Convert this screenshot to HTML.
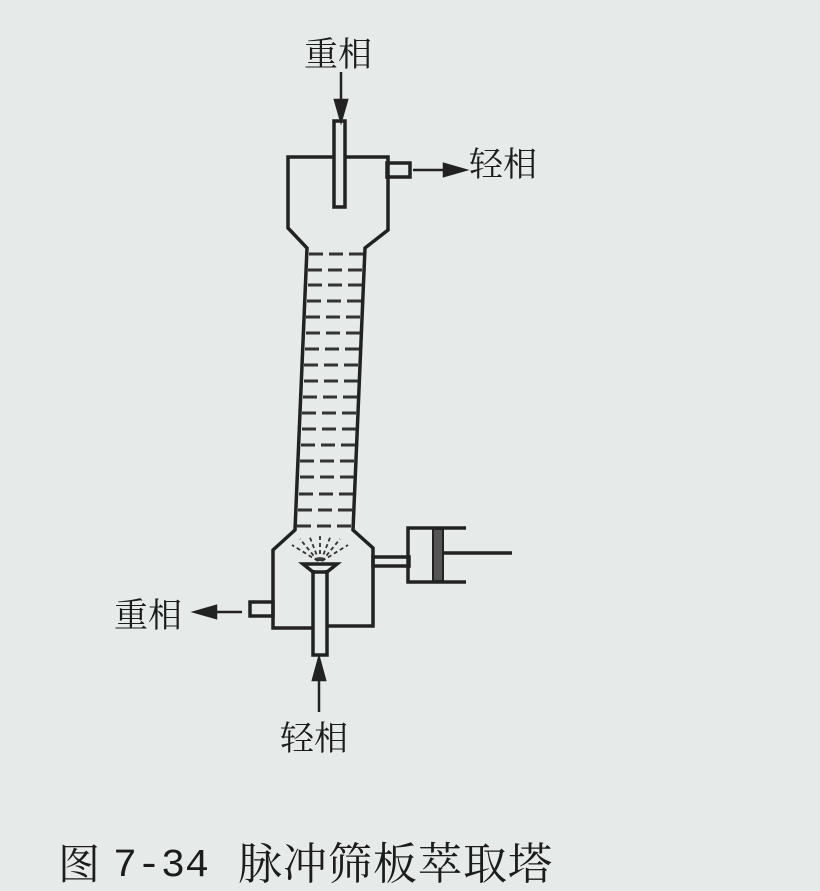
<!DOCTYPE html>
<html><head><meta charset="utf-8"><style>
html,body{margin:0;padding:0;background:#e6eae9;}
svg{display:block}
text{font-family:"Liberation Serif","Noto Serif CJK SC","Noto Sans CJK SC",serif;fill:#1c1c1c}
</style></head><body>
<svg width="820" height="891" viewBox="0 0 820 891" xmlns="http://www.w3.org/2000/svg">
<rect width="820" height="891" fill="#e6eae9"/>
<g stroke="#222" stroke-width="3.5" fill="none" stroke-linejoin="miter">
<path d="M333 157 L288 157 L288 228 L307 248 L295 530 L273 550 L273 628 L313 628"/>
<path d="M346 157 L388 157 L388 230 L365 248 L353 530 L373 548 L373 626 L327 626"/>
<rect x="334" y="121" width="11" height="86"/>
<rect x="387" y="163" width="23" height="14"/>
<rect x="250" y="602" width="23" height="14"/>
<path d="M313 570 L313 655 L327 655 L327 570"/>
<path d="M303 564 L337 564 L327 572 L313 572 Z"/>
<rect x="373" y="557" width="36" height="9"/>
<path d="M466 528 L408 528 L408 582 L466 582"/>
<path d="M443 553 L512 553"/>
</g>
<rect x="433" y="529" width="10" height="52" fill="#555" stroke="#222" stroke-width="2"/>
<g stroke="#222" stroke-width="2.5" fill="#222">
<line x1="341" y1="72" x2="341" y2="108"/><path d="M335 100 L341 121 L347 100 Z"/>
<line x1="413" y1="170" x2="450" y2="170"/><path d="M444 164 L465 170 L444 176 Z"/>
<line x1="242" y1="612" x2="210" y2="612"/><path d="M216 606 L195 612 L216 618 Z"/>
<line x1="319" y1="712" x2="319" y2="672"/><path d="M313 680 L319 658 L325 680 Z"/>
</g>
<g stroke="#333" stroke-width="3" stroke-dasharray="14 6">
<line x1="309" y1="254" x2="364" y2="254"/>
<line x1="308" y1="270" x2="363" y2="270"/>
<line x1="308" y1="285" x2="362" y2="285"/>
<line x1="307" y1="301" x2="362" y2="301"/>
<line x1="306" y1="317" x2="361" y2="317"/>
<line x1="306" y1="333" x2="360" y2="333"/>
<line x1="305" y1="349" x2="359" y2="349"/>
<line x1="304" y1="365" x2="359" y2="365"/>
<line x1="304" y1="381" x2="358" y2="381"/>
<line x1="303" y1="397" x2="357" y2="397"/>
<line x1="302" y1="413" x2="357" y2="413"/>
<line x1="302" y1="429" x2="356" y2="429"/>
<line x1="301" y1="445" x2="356" y2="445"/>
<line x1="300" y1="461" x2="355" y2="461"/>
<line x1="300" y1="477" x2="355" y2="477"/>
<line x1="299" y1="494" x2="354" y2="494"/>
<line x1="298" y1="510" x2="354" y2="510"/>
<line x1="297" y1="526" x2="353" y2="526"/>
</g>
<g stroke="#333" stroke-width="1.8" stroke-dasharray="4 3">
<line x1="318" y1="561" x2="292" y2="545"/>
<line x1="318" y1="561" x2="300" y2="539"/>
<line x1="319" y1="561" x2="309" y2="535"/>
<line x1="320" y1="561" x2="320" y2="533"/>
<line x1="321" y1="561" x2="331" y2="535"/>
<line x1="322" y1="561" x2="340" y2="539"/>
<line x1="322" y1="561" x2="348" y2="545"/>
</g>
<text x="304" y="66" font-size="34">重相</text>
<text x="469" y="176" font-size="34">轻相</text>
<text x="114" y="627" font-size="34">重相</text>
<text x="280" y="750" font-size="34">轻相</text>
<text x="58" y="879" font-size="42">图</text>
<text x="113" y="876" font-size="40" style="font-family:'Liberation Mono',monospace">7-34</text>
<text x="238" y="879" font-size="44" letter-spacing="1">脉冲筛板萃取塔</text>
</svg>
</body></html>
